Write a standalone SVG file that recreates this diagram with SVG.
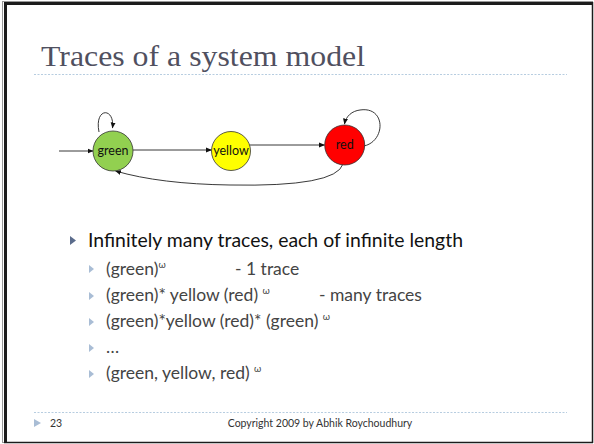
<svg xmlns="http://www.w3.org/2000/svg" width="594" height="444" viewBox="0 0 594 444">
<style>
.frame{stroke:#1c1c1c;fill:none}
.rule{stroke:#b7cde0;stroke-width:1;stroke-dasharray:2 1.5;fill:none}
.title{font-family:"Liberation Serif",serif;font-size:29px;fill:#50505f}
.node circle{stroke:#333;stroke-width:0.8}
.node text{font-family:Lato,"Open Sans",sans-serif;font-size:12.5px;fill:#111;text-anchor:middle}
.conn path{stroke:#222;stroke-width:0.9;fill:none;marker-end:url(#ah)}
.main{font-family:Lato,"Open Sans",sans-serif;font-size:19px;fill:#111}
.sub{font-family:Lato,"Open Sans",sans-serif;font-size:17.5px;fill:#444}
.sup{font-size:9.5px}
.b1{fill:#5b6c8c}
.b2{fill:#a9bdd5}
.foot{font-family:Lato,"Open Sans",sans-serif;font-size:10.5px;fill:#333}
</style>
<defs>
<marker id="ah" markerWidth="6" markerHeight="6" refX="5.5" refY="3" orient="auto" markerUnits="userSpaceOnUse">
<path d="M0,0.5 L6,3 L0,5.5 z" fill="#111"/>
</marker>
</defs>
<rect x="0" y="0" width="594" height="444" fill="#fff"/>
<rect x="2.5" y="1.5" width="590" height="441" fill="none" stroke="#999" stroke-width="1"/>
<path class="frame" d="M5.5,3.5 L592.5,3.5" stroke-width="3"/>
<path class="frame" d="M5.5,2 L5.5,443" stroke-width="3"/>
<path class="frame" d="M592.5,2 L592.5,443" stroke-width="1.5"/>
<path class="frame" d="M4,442.5 L593,442.5" stroke-width="1.5"/>

<text class="title" x="41" y="66" textLength="324" lengthAdjust="spacingAndGlyphs">Traces of a system model</text>
<path class="rule" d="M34,74.5 L567,74.5"/>

<g class="conn">
<path d="M59,151 L93,151"/>
<path d="M133,150 L211.5,150"/>
<path d="M249.5,145 L324.5,145"/>
<path d="M343,164 Q336,187 230,185 Q160,184 115.5,171"/>
<path d="M99,132 C94,107 115,107 112.5,128"/>
<path d="M364,146 C386,141 386,106 360,110 C352,111 346,116 344.5,124"/>
</g>

<g id="green" class="node">
<circle cx="113" cy="151" r="20" fill="#92d050"/>
<text x="113" y="155">green</text>
</g>
<g id="yellow" class="node">
<circle cx="231" cy="151" r="19.5" fill="#ffff00"/>
<text x="231" y="155">yellow</text>
</g>
<g id="red" class="node">
<circle cx="344.7" cy="145" r="20" fill="#ff0000"/>
<text x="344.7" y="149">red</text>
</g>

<path class="b1" d="M70,236 L76,240.5 L70,245 z"/>
<text class="main" x="88" y="247" textLength="375" lengthAdjust="spacingAndGlyphs">Infinitely many traces, each of infinite length</text>

<path class="b2" d="M89,265 L94,269 L89,273 z"/>
<text class="sub" x="106" y="275">(green)<tspan class="sup" dy="-7">ω</tspan></text>
<text class="sub" x="235" y="275">- 1 trace</text>

<path class="b2" d="M89,292 L94,296 L89,300 z"/>
<text class="sub" x="106" y="301">(green)* yellow (red) <tspan class="sup" dy="-7">ω</tspan></text>
<text class="sub" x="319" y="301">- many traces</text>

<path class="b2" d="M89,318 L94,322 L89,326 z"/>
<text class="sub" x="106" y="327">(green)*yellow (red)* (green) <tspan class="sup" dy="-7">ω</tspan></text>

<path class="b2" d="M89,344 L94,348 L89,352 z"/>
<text class="sub" x="106" y="353">…</text>

<path class="b2" d="M89,370 L94,374 L89,378 z"/>
<text class="sub" x="106" y="379">(green, yellow, red) <tspan class="sup" dy="-7">ω</tspan></text>

<path class="rule" d="M34,412.5 L567,412.5"/>
<path class="b2" d="M34,419 L41,423 L34,427 z"/>
<text class="foot" x="50" y="427">23</text>
<text class="foot" x="320" y="427" text-anchor="middle">Copyright 2009 by Abhik Roychoudhury</text>
</svg>
